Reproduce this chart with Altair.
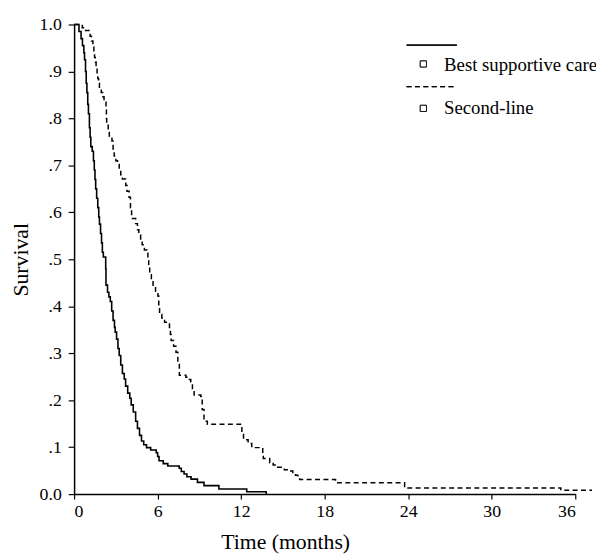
import altair as alt
import pandas as pd

# Kaplan-Meier curves (time in months, survival after the step)
bsc_time = [0, 0.35, 0.5, 0.6, 0.7, 0.75, 0.82, 0.87, 0.92, 0.98, 1.03, 1.10, 1.15, 1.20,
            1.30, 1.39, 1.45, 1.50, 1.55, 1.62, 1.70, 1.77, 1.82, 1.90, 1.97, 2.03, 2.10,
            2.27, 2.29, 2.4, 2.5, 2.6, 2.7, 2.8, 2.9, 2.95, 3.05, 3.15, 3.24, 3.35, 3.47,
            3.6, 3.7, 3.85, 4.0, 4.1, 4.25, 4.42, 4.55, 4.7, 4.84, 5.0, 5.2, 5.5, 5.9,
            6.0, 6.1, 6.4, 6.73, 7.55, 7.7, 7.9, 8.1, 8.4, 8.86, 9.33, 10.4, 12.4, 13.8]
bsc_surv = [1.0, 0.985, 0.97, 0.955, 0.94, 0.925, 0.90, 0.875, 0.855, 0.83, 0.81, 0.78, 0.76,
            0.74, 0.73, 0.71, 0.69, 0.67, 0.65, 0.63, 0.61, 0.59, 0.575, 0.555, 0.535, 0.515,
            0.505, 0.48, 0.445, 0.43, 0.42, 0.41, 0.39, 0.37, 0.355, 0.345, 0.33, 0.31, 0.295,
            0.275, 0.257, 0.245, 0.23, 0.215, 0.204, 0.19, 0.175, 0.155, 0.14, 0.125, 0.113,
            0.105, 0.099, 0.094, 0.088, 0.08, 0.071, 0.065, 0.060, 0.055, 0.048, 0.043, 0.037,
            0.032, 0.025, 0.018, 0.011, 0.005, 0.0]

sl_time = [0, 0.59, 0.76, 1.15, 1.25, 1.35, 1.42, 1.47, 1.52, 1.58, 1.65, 1.70, 1.76, 1.82,
           1.95, 2.05, 2.15, 2.29, 2.32, 2.34, 2.45, 2.53, 2.72, 2.8, 2.88, 3.0, 3.12, 3.24,
           3.35, 3.47, 3.71, 3.8, 3.95, 4.05, 4.13, 4.42, 4.55, 4.65, 4.78, 4.89, 5.05, 5.24,
           5.3, 5.36, 5.43, 5.55, 5.67, 5.85, 6.02, 6.08, 6.14, 6.3, 6.5, 6.85, 6.92, 6.97,
           7.15, 7.32, 7.45, 7.56, 8.03, 8.2, 8.38, 8.5, 8.62, 9.1, 9.2, 9.33, 9.57, 12.05,
           12.17, 12.5, 12.76, 13.55, 13.59, 14.05, 14.3, 14.53, 15.1, 15.4, 15.71, 15.9,
           16.07, 16.2, 18.78, 23.74, 34.96, 37.2]
sl_surv = [1.0, 0.993, 0.987, 0.975, 0.965, 0.952, 0.94, 0.93, 0.92, 0.91, 0.895, 0.885, 0.875,
           0.864, 0.855, 0.846, 0.835, 0.818, 0.80, 0.79, 0.775, 0.762, 0.752, 0.735, 0.72,
           0.71, 0.702, 0.692, 0.68, 0.671, 0.657, 0.645, 0.632, 0.61, 0.587, 0.576, 0.563,
           0.552, 0.54, 0.531, 0.52, 0.513, 0.50, 0.485, 0.467, 0.455, 0.443, 0.432, 0.422,
           0.40, 0.383, 0.375, 0.366, 0.355, 0.34, 0.327, 0.315, 0.302, 0.28, 0.253, 0.249,
           0.244, 0.239, 0.225, 0.211, 0.208, 0.18, 0.155, 0.149, 0.13, 0.116, 0.108, 0.099,
           0.085, 0.076, 0.067, 0.062, 0.057, 0.052, 0.049, 0.046, 0.04, 0.036, 0.031, 0.024,
           0.013, 0.008, 0.008]

x_ticks = [0, 6, 12, 18, 24, 30, 36]
y_ticks = [0.0, 0.1, 0.2, 0.3, 0.4, 0.5, 0.6, 0.7, 0.8, 0.9, 1.0]
legend_labels = ["Best supportive care", "Second-line"]

FONT = "Liberation Serif"

bsc = pd.DataFrame({"time": bsc_time, "surv": bsc_surv})
sl = pd.DataFrame({"time": sl_time, "surv": sl_surv})

xscale = alt.Scale(domain=[0, 36], nice=False, zero=False)
yscale = alt.Scale(domain=[0, 1], nice=False)

xaxis = alt.Axis(values=x_ticks, title="Time (months)", grid=False, domainColor="black",
                 domainWidth=1.5, tickColor="black", tickWidth=1.2, tickSize=5,
                 labelFont=FONT, labelFontSize=18, labelColor="black", labelPadding=4,
                 titleFont=FONT, titleFontSize=22, titleFontWeight="normal", titleColor="black",
                 titleX=214, titleY=55, titleBaseline="alphabetic", titleAlign="center")
yaxis = alt.Axis(values=y_ticks, title="Survival", grid=False, domainColor="black",
                 domainWidth=1.5, tickColor="black", tickWidth=1.2, tickSize=6,
                 labelFont=FONT, labelFontSize=18, labelColor="black", labelPadding=7,
                 labelExpr="(datum.value < 0.05 || datum.value > 0.95) ? format(datum.value, '.1f') : substring(format(datum.value, '.1f'), 1)",
                 titleFont=FONT, titleFontSize=22, titleFontWeight="normal", titleColor="black",
                 titleX=-47, titleY=238, titleAngle=270, titleBaseline="alphabetic",
                 titleAlign="center")

line_bsc = alt.Chart(bsc).mark_line(interpolate="step-after", color="black",
                                    strokeWidth=1.6, clip=False).encode(
    x=alt.X("time:Q", scale=xscale, axis=xaxis),
    y=alt.Y("surv:Q", scale=yscale, axis=yaxis),
)
line_sl = alt.Chart(sl).mark_line(interpolate="step-after", color="black",
                                  strokeWidth=1.5, strokeDash=[5, 3.5], clip=False).encode(
    x=alt.X("time:Q", scale=xscale),
    y=alt.Y("surv:Q", scale=yscale),
)

# custom legend (decoration, pixel positions in the plot area)
leg_src = pd.DataFrame({"label": legend_labels})
leg_line1 = alt.Chart(leg_src).mark_rule(color="black", strokeWidth=1.3).encode(
    x=alt.value(337), x2=alt.value(388), y=alt.value(21))
leg_line2 = alt.Chart(leg_src).mark_rule(color="black", strokeWidth=1.3,
                                         strokeDash=[5, 3.5]).encode(
    x=alt.value(337), x2=alt.value(388), y=alt.value(63))
leg_sq1 = alt.Chart(leg_src).mark_point(shape="square", size=40, color="black",
                                        strokeWidth=1, filled=False).encode(
    x=alt.value(354), y=alt.value(40))
leg_sq2 = alt.Chart(leg_src).mark_point(shape="square", size=40, color="black",
                                        strokeWidth=1, filled=False).encode(
    x=alt.value(354), y=alt.value(85))
leg_t1 = alt.Chart(pd.DataFrame({"label": [legend_labels[0]]})).mark_text(
    font=FONT, fontSize=19, color="black", align="left", baseline="alphabetic").encode(
    x=alt.value(375), y=alt.value(47), text="label:N")
leg_t2 = alt.Chart(pd.DataFrame({"label": [legend_labels[1]]})).mark_text(
    font=FONT, fontSize=19, color="black", align="left", baseline="alphabetic").encode(
    x=alt.value(375), y=alt.value(91), text="label:N")

chart = alt.layer(line_bsc, line_sl, leg_line1, leg_line2, leg_sq1, leg_sq2, leg_t1, leg_t2).properties(
    width=508, height=476,
    autosize=alt.AutoSizeParams(type="none"),
    padding={"left": 67, "top": 13, "right": 21, "bottom": 59},
    background="white",
).configure_view(stroke=None)

chart.save("out.html", embed_options={"renderer": "svg", "actions": False})
